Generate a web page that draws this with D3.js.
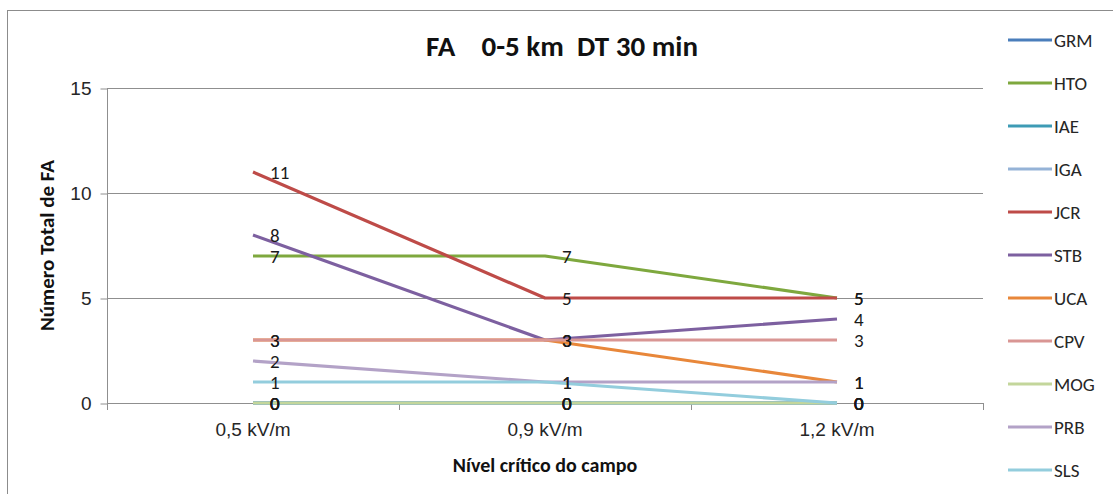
<!DOCTYPE html>
<html>
<head>
<meta charset="utf-8">
<script src="https://cdn.jsdelivr.net/npm/d3@7"></script>
<style>
  body { margin: 0; background: #fff; }
  svg { display: block; font-family: Calibri, Carlito, Lato, "Open Sans", sans-serif; }
</style>
</head>
<body>
<div id="chart"></div>
<script>
const categories = ["0,5 kV/m", "0,9 kV/m", "1,2 kV/m"];
const seriesNames = ["GRM", "HTO", "IAE", "IGA", "JCR", "STB", "UCA", "CPV", "MOG", "PRB", "SLS"];
const grmValues = [0, 0, 0];
const htoValues = [7, 7, 5];
const iaeValues = [0, 0, 0];
const igaValues = [0, 0, 0];
const jcrValues = [11, 5, 5];
const stbValues = [8, 3, 4];
const ucaValues = [3, 3, 1];
const cpvValues = [3, 3, 3];
const mogValues = [0, 0, 0];
const prbValues = [2, 1, 1];
const slsValues = [1, 1, 0];
const yTicks = [0, 5, 10, 15];

const seriesColors = ["#4A7EBB", "#7EA83E", "#3E9BB5", "#95B3D7", "#BE4B48", "#7D60A0",
  "#E8873A", "#D99694", "#C3D69B", "#B3A2C7", "#93CDDD"];

const series = seriesNames.map((name, i) => ({
  name,
  color: seriesColors[i],
  values: [grmValues, htoValues, iaeValues, igaValues, jcrValues, stbValues,
    ucaValues, cpvValues, mogValues, prbValues, slsValues][i]
}));

const WIDTH = 1113;
const HEIGHT = 494;
const PLOT = { left: 107, right: 983, top: 88, bottom: 403 };
const GRID_COLOR = "#8f8f8f";
const TEXT_COLOR = "#262626";
const TICK_FONT = 19;

const svg = d3.select("#chart")
  .append("svg")
  .attr("width", WIDTH)
  .attr("height", HEIGHT);

// outer frame
svg.append("rect")
  .attr("x", 7.5).attr("y", 10.5)
  .attr("width", WIDTH + 10).attr("height", HEIGHT)
  .attr("fill", "#fff")
  .attr("stroke", "#8c8c8c");

const x = d3.scaleBand()
  .domain(categories)
  .range([PLOT.left, PLOT.right]);

const y = d3.scaleLinear()
  .domain([0, 15])
  .range([PLOT.bottom, PLOT.top]);

// gridlines
svg.append("g")
  .selectAll("line")
  .data(yTicks.slice(1))
  .join("line")
  .attr("x1", PLOT.left).attr("x2", PLOT.right)
  .attr("y1", d => Math.round(y(d)) + 0.5)
  .attr("y2", d => Math.round(y(d)) + 0.5)
  .attr("stroke", GRID_COLOR);

// y axis
const yAxis = svg.append("g")
  .attr("transform", `translate(${PLOT.left + 0.5},0.5)`)
  .call(d3.axisLeft(y).tickValues(yTicks).tickSize(7).tickPadding(9));
yAxis.select(".domain").attr("stroke", GRID_COLOR).attr("d", `M0,${PLOT.bottom}V${PLOT.top}`);
yAxis.selectAll(".tick line").attr("stroke", GRID_COLOR);
yAxis.selectAll("text")
  .attr("font-size", TICK_FONT)
  .attr("fill", TEXT_COLOR)
  .style("font-family", "inherit");

// x axis
const xAxis = svg.append("g")
  .attr("transform", `translate(0,${PLOT.bottom + 0.5})`)
  .call(d3.axisBottom(x).tickSize(0).tickPadding(19));
xAxis.select(".domain").attr("stroke", GRID_COLOR).attr("d", `M${PLOT.left},0H${PLOT.right}`);
xAxis.selectAll("text")
  .attr("font-size", TICK_FONT)
  .attr("fill", TEXT_COLOR)
  .style("font-family", "inherit");
// category boundary ticks
svg.append("g")
  .selectAll("line")
  .data(categories.map(c => x(c)).concat([PLOT.right]))
  .join("line")
  .attr("x1", d => Math.round(d) + 0.5).attr("x2", d => Math.round(d) + 0.5)
  .attr("y1", PLOT.bottom).attr("y2", PLOT.bottom + 7)
  .attr("stroke", GRID_COLOR);

const cx = c => x(c) + x.bandwidth() / 2;

const line = d3.line()
  .x((d, i) => cx(categories[i]))
  .y(d => y(d));

svg.append("g")
  .selectAll("path")
  .data(series)
  .join("path")
  .attr("d", d => line(d.values))
  .attr("fill", "none")
  .attr("stroke", d => d.color)
  .attr("stroke-width", 3.2)
  .attr("stroke-linejoin", "round");

// data labels
const labels = series.flatMap(s => s.values.map((v, i) => ({ v, cat: categories[i] })));
svg.append("g")
  .selectAll("text")
  .data(labels)
  .join("text")
  .attr("x", d => cx(d.cat) + 17)
  .attr("y", d => y(d.v))
  .attr("dy", "0.35em")
  .attr("font-size", TICK_FONT)
  .attr("fill", "#1a1a1a")
  .text(d => d.v);

// title
svg.append("text")
  .attr("x", 562).attr("y", 56)
  .attr("text-anchor", "middle")
  .attr("font-size", 29)
  .attr("font-weight", "bold")
  .attr("fill", "#111")
  .style("white-space", "pre")
  .text("FA    0-5 km  DT 30 min");

// axis titles
svg.append("text")
  .attr("transform", `translate(54,${(PLOT.top + PLOT.bottom) / 2}) rotate(-90)`)
  .attr("text-anchor", "middle")
  .attr("font-size", 21)
  .attr("font-weight", "bold")
  .attr("fill", "#111")
  .text("Número Total de FA");

svg.append("text")
  .attr("x", (PLOT.left + PLOT.right) / 2).attr("y", 472)
  .attr("text-anchor", "middle")
  .attr("font-size", 20)
  .attr("font-weight", "bold")
  .attr("fill", "#111")
  .text("Nível crítico do campo");

// legend
const legend = svg.append("g")
  .selectAll("g")
  .data(series)
  .join("g")
  .attr("transform", (d, i) => `translate(1008,${40 + i * 43})`);
legend.append("line")
  .attr("x1", 0).attr("x2", 44)
  .attr("stroke", d => d.color)
  .attr("stroke-width", 3.2);
legend.append("text")
  .attr("x", 46)
  .attr("dy", "0.35em")
  .attr("font-size", TICK_FONT)
  .attr("fill", TEXT_COLOR)
  .text(d => d.name);
</script>
</body>
</html>
